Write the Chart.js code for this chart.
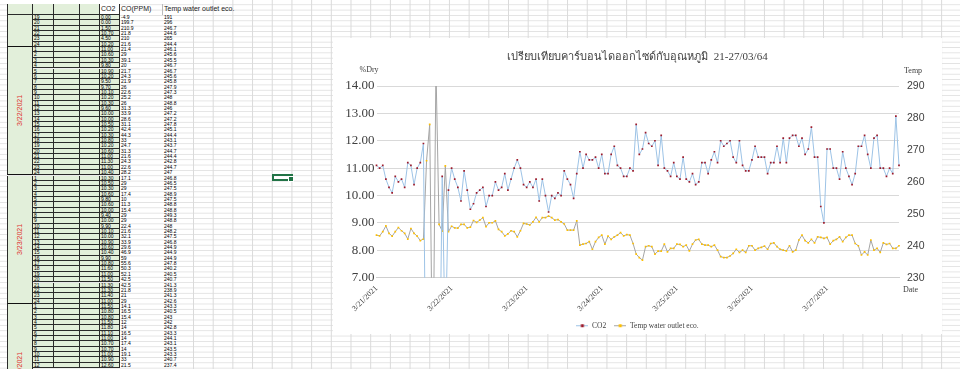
<!DOCTYPE html>
<html>
<head>
<meta charset="utf-8">
<script src="https://cdn.jsdelivr.net/npm/chart.js@4.4.1/dist/chart.umd.min.js"></script>
<style>
html, body { margin: 0; padding: 0; }
body {
  width: 960px; height: 369px; overflow: hidden; position: relative;
  background-color: #fff;
  background-image: linear-gradient(to bottom, #e2e2e2 1px, transparent 1px);
  background-size: 100% 5.35px;
  background-position: 0 4.3px;
  font-family: "Liberation Sans", Arial, sans-serif;
}
#vlines {
  position: absolute; left: 193px; top: 0; width: 767px; height: 369px;
  background-image: linear-gradient(to right, #dadada 1px, transparent 1px);
  background-size: 19.7px 100%;
}
.c { position: absolute; box-sizing: border-box; white-space: nowrap; overflow: hidden; color: #000; }
.g { background: #e2efda; border-right: 1px solid #2a2a2a; border-bottom: 1px solid #2a2a2a; }
.t { font-size: 5px; line-height: 5px; padding-left: 1px; }
.hd { font-size: 7px; line-height: 10px; padding-left: 1px; color: #222; }
.dt { display: flex; align-items: center; justify-content: center; }
.dt span { transform: rotate(-90deg); font-size: 7px; color: #e0302f; white-space: nowrap; }
#chartBox { position: absolute; left: 333px; top: 38px; width: 609px; height: 296px; background: #fff; }
#active { position: absolute; left: 272px; top: 174px; width: 21px; height: 7px; box-sizing: border-box; border: 2px solid #217346; }
#active i { position: absolute; right: -3px; bottom: -3px; width: 4px; height: 4px; background: #217346; border: 1px solid #fff; }
</style>
</head>
<body>
<div id="vlines"></div>
<div id="sheet"></div>
<div id="active"><i></i></div>
<div id="chartBox"><canvas id="co2Chart"></canvas></div>
<script>
// chart data: one point per hour, 21-27 March 2021
const days = ['3/21/2021', '3/22/2021', '3/23/2021', '3/24/2021', '3/25/2021', '3/26/2021', '3/27/2021'];
const hours = [1, 2, 3, 4, 5, 6, 7, 8, 9, 10, 11, 12, 13, 14, 15, 16, 17, 18, 19, 20, 21, 22, 23, 24];

const co2 = [
  11.1, 11.0, 11.1, 10.6, 10.3, 10.1, 10.7, 10.5, 10.6, 10.3, 11.2, 11.1, 10.4, 11.0, 11.2, 11.9,
  0, 0, 0, 0, 1.5, 10.7, 4.5, 10.2,
  11.0, 10.6, 10.3, 9.8, 10.9, 10.2, 9.5, 9.7, 10.1, 10.2, 10.3, 9.6, 10.0, 10.0, 10.5, 10.2,
  10.3, 10.8, 10.2, 10.6, 11.0, 11.3, 11.0, 10.4, 10.3, 10.5, 10.3, 10.6, 9.8, 10.6, 10.0, 9.4,
  10.0, 9.9, 10.1, 10.0, 10.9, 10.6, 10.4, 9.9, 10.8, 11.6, 11.0, 11.5, 11.3, 11.3, 11.4, 11.0,
  11.5, 10.8, 10.8, 11.5, 11.8, 11.1, 11.0, 10.7, 10.7, 11.0, 10.9, 12.6, 11.5, 11.7, 12.3, 11.9,
  11.8, 12.0, 11.1, 12.2, 11.0, 10.9, 10.7, 11.2, 10.7, 10.6, 11.4, 10.6, 10.5, 10.8, 10.4, 10.5,
  11.2, 11.2, 10.8, 11.3, 11.6, 11.2, 12.0, 11.8, 11.9, 12.0, 11.4, 11.2, 12.0, 11.1, 10.9, 10.9,
  11.3, 11.8, 11.4, 11.4, 11.4, 10.8, 11.2, 11.2, 11.8, 11.2, 12.1, 11.2, 12.1, 12.2, 12.2, 11.8,
  12.1, 11.5, 11.7, 12.5, 11.4, 11.4, 9.6, 9.0, 11.7, 11.7, 11.0, 11.0, 10.6, 11.6, 11.0, 10.7,
  10.4, 10.8, 11.8, 11.8, 12.2, 11.5, 11.0, 12.1, 12.2, 11.0, 11.0, 10.7, 11.0, 10.8, 12.9, 11.1
];

const temp = [
  243.3, 243.1, 244.4, 246.2, 243.9, 243.0, 244.4, 245.7, 244.7, 243.9, 242.1, 245.4, 243.9, 243.0, 241.6, 242.1,
  266.6, 278.0, 191.0, 296.0, 246.7, 244.6, 265.0, 244.4,
  246.1, 245.6, 245.5, 246.7, 246.7, 245.6, 245.8, 247.9, 247.3,
  248.0, 248.8, 246.0, 247.2, 247.2, 247.8, 245.1, 244.4, 243.1, 243.7, 244.7, 244.4, 242.8, 244.7, 247.0, 246.8,
  246.5, 247.5, 248.9, 247.5, 248.8, 248.8, 249.3, 248.8, 248.0, 248.2, 247.5, 246.8, 244.9, 244.9, 244.9, 247.8,
  240.2, 240.5,
  240.7, 241.3, 238.9, 241.3, 242.6, 243.3, 240.5, 243.0, 242.0, 242.8, 243.3, 244.1, 243.1, 243.5, 243.3, 240.7,
  237.4, 236.3, 235.5, 239.7, 240.0, 239.7, 237.4, 238.3, 238.3, 240.5, 238.1, 239.2, 239.2, 240.5, 240.4, 239.7,
  240.2, 238.4,
  240.5, 241.8, 242.0, 240.5, 240.2, 240.2, 239.7, 240.2, 238.6, 236.6, 236.3, 236.3, 236.8, 237.6, 238.9, 237.9,
  238.6, 237.9, 240.0, 240.0, 238.6, 239.2, 239.5, 239.9, 238.9, 240.7, 240.9, 239.7, 238.9, 238.6, 238.4, 240.0,
  238.1, 238.6,
  241.8, 243.3, 241.6, 240.9, 242.0, 240.9, 242.8, 242.6, 242.3, 242.6, 240.5, 241.6, 242.0, 242.8, 241.3, 242.6,
  243.3, 243.3, 240.7, 240.0, 237.1, 238.1, 237.1, 241.8, 238.6, 239.2, 237.9, 240.9, 240.4, 240.7, 239.2, 239.2,
  240.0
];

// CO(PPM) column as far as it shows in the sheet (3/21 19h .. 3/24 12h)
const coPpm = [
  -4.9, 199.7, 210.9, 21.8, 210.0, 21.6,
  21.4, 29, 39.1, 20.0, 21.7, 24.3, 21.9, 26, 22.6, 25.2, 26, 31.3, 33.9, 28.6, 31.1, 42.4, 44.3, 33, 24.7, 31.3, 21.6, 24.3, 22.6, 28.2,
  17.1, 29, 29, 17.4, 10, 11.3, 15.4, 29, 29, 22.4, 21.6, 32.1, 33.9, 29.6, 46.9, 59, 55.6, 50.3, 52.1, 42.5, 42.5, 21.8, 21.0, 29,
  14.1, 16.5, 15.4, 12, 14.0, 16.5, 14.0, 17.4, 14.0, 19.1, 33, 21.5
];

const titleText = 'เปรียบเทียบคาร์บอนไดออกไซด์กับอุณหภูมิ  21-27/03/64';
const leftTitle = '%Dry';
const rightTitle = 'Temp';
const xTitle = 'Date';
const leftMin = 7, leftMax = 14;
const rightMin = 230, rightMax = 290;

// ---------- the worksheet behind the chart ----------
const sheet = document.getElementById('sheet');
function cell(x, y, w, h, cls, text) {
  const d = document.createElement('div');
  d.className = 'c ' + cls;
  d.style.left = x + 'px'; d.style.top = y + 'px';
  d.style.width = w + 'px'; d.style.height = h + 'px';
  if (text !== undefined) d.textContent = text;
  sheet.appendChild(d);
  return d;
}
const rowTop = 15, rowH = 5.35;

// header row
cell(7, 4, 26, 11, 'g', '').style.borderLeft = '1px solid #2a2a2a';
cell(33, 4, 21, 11, 'g', '');
cell(54, 4, 26, 11, 'g', '');
cell(80, 4, 20, 11, 'g', '');
cell(100, 4, 20, 11, 'g hd', 'CO2').style.background = '#fff';
cell(120, 4, 43, 11, 'hd', 'CO(PPM)').style.borderRight = '1px solid #bbb';
cell(163, 4, 90, 11, 'hd', 'Temp water outlet eco.');

let r = 0;
[[0, 19, 24], [1, 1, 24], [2, 1, 24], [3, 1, 12]].forEach(([d, h0, h1]) => {
  const blockTop = rowTop + r * rowH;
  const fullRows = 24 - (h0 - 1);
  const blk = cell(7, blockTop, 26, fullRows * rowH, 'g dt');
  blk.style.borderLeft = '1px solid #2a2a2a';
  blk.style.borderBottom = '1px solid #111';
  if (h0 === 1) {
    const s = document.createElement('span');
    s.textContent = days[d];
    blk.appendChild(s);
  }
  for (let h = h0; h <= h1; h++) {
    const y = rowTop + r * rowH;
    const i = d * 24 + h - 1;
    cell(33, y, 21, rowH, 'g t', String(h));
    cell(54, y, 26, rowH, 'g t', '');
    cell(80, y, 20, rowH, 'g t', '');
    cell(100, y, 20, rowH, 'g t', co2[i].toFixed(2));
    cell(120, y, 43, rowH, 't', String(coPpm[r]));
    cell(163, y, 30, rowH, 't', String(temp[i]));
    r++;
  }
});

// ---------- the chart ----------
const labels = days.flatMap(d => hours.map(h => d + ' ' + h));

function legendMark(lineColor, dotColor) {
  const c = document.createElement('canvas');
  c.width = 12; c.height = 5;
  const g = c.getContext('2d');
  g.strokeStyle = lineColor; g.lineWidth = 1;
  g.beginPath(); g.moveTo(0, 2.5); g.lineTo(12, 2.5); g.stroke();
  g.fillStyle = dotColor; g.fillRect(4.5, 1, 3, 3);
  return c;
}
const co2Line = '#9dc3e6', co2Dot = '#9e1a2a';
const tempLine = '#a5a5a5', tempDot = '#ffc000';
const marks = [legendMark(co2Line, co2Dot), legendMark(tempLine, tempDot)];

const axisTitles = {
  id: 'axisTitles',
  afterDraw(chart) {
    const { ctx, chartArea } = chart;
    ctx.save();
    ctx.font = '8px "Liberation Serif"';
    ctx.fillStyle = '#404040';
    ctx.textBaseline = 'middle';
    ctx.textAlign = 'left';
    ctx.fillText(leftTitle, chartArea.left - 17, chartArea.top - 16);
    ctx.fillText(rightTitle, chartArea.right + 5, chartArea.top - 15);
    ctx.fillText(xTitle, chartArea.right + 4, chartArea.bottom + 12);
    ctx.restore();
  }
};

const plotBottom = 239.7;
const padBottom = -5.5;
const ctx = document.getElementById('co2Chart').getContext('2d');
const co2Chart = new Chart(ctx, {
  type: 'line',
  data: {
    labels: labels,
    datasets: [{
      label: 'CO2',
      data: co2,
      yAxisID: 'y',
      borderColor: co2Line,
      borderWidth: 1,
      pointStyle: 'rect',
      pointRadius: 1.2,
      pointBorderWidth: 0,
      pointBackgroundColor: co2Dot,
      tension: 0
    }, {
      label: 'Temp water outlet eco.',
      data: temp,
      yAxisID: 'y1',
      borderColor: tempLine,
      borderWidth: 1,
      pointStyle: 'rect',
      pointRadius: 1.2,
      pointBorderWidth: 0,
      pointBackgroundColor: tempDot,
      tension: 0
    }]
  },
  options: {
    responsive: true,
    maintainAspectRatio: false,
    animation: false,
    layout: { padding: { left: 0, right: 0, top: 0, bottom: padBottom } },
    plugins: {
      title: {
        display: true,
        text: titleText,
        color: '#404040',
        font: { family: '"Liberation Serif", "Noto Sans", serif', size: 11, weight: 'normal' },
        padding: { top: 12.4, bottom: 22.4 }
      },
      legend: {
        position: 'bottom',
        labels: {
          usePointStyle: true,
          pointStyleWidth: 12,
          padding: 8,
          color: '#404040',
          font: { family: '"Liberation Serif"', size: 7.5 },
          generateLabels(chart) {
            const items = Chart.defaults.plugins.legend.labels.generateLabels(chart);
            items.forEach((it, k) => { it.pointStyle = marks[k]; });
            return items;
          }
        }
      },
      tooltip: { enabled: false }
    },
    scales: {
      x: {
        type: 'category',
        offset: false,
        grid: { display: false, drawTicks: false },
        border: { display: true, color: '#cfcfcf', dash: [1, 1] },
        ticks: {
          autoSkip: false,
          maxRotation: 45,
          minRotation: 45,
          padding: 6,
          color: '#404040',
          font: { family: '"Liberation Serif"', size: 8 },
          callback(v, i) { return i % 24 === 0 ? days[i / 24] : ''; }
        },
        afterFit(s) {
          s.height = s.chart.height - padBottom - s.chart.legend.height - plotBottom;
        }
      },
      y: {
        position: 'left',
        min: leftMin,
        max: leftMax,
        grid: { color: '#d9d9d9', drawTicks: false },
        border: { display: false },
        ticks: {
          stepSize: 1,
          padding: 2,
          color: '#404040',
          font: { family: '"Liberation Serif"', size: 13 },
          callback: v => v.toFixed(2)
        },
        afterFit(s) { s.width = 43.5; }
      },
      y1: {
        position: 'right',
        min: rightMin,
        max: rightMax,
        grid: { display: false, drawTicks: false },
        border: { display: false },
        ticks: {
          stepSize: 10,
          padding: 8,
          color: '#404040',
          font: { family: '"Liberation Sans"', size: 10.5 }
        },
        afterFit(s) { s.width = 43; }
      }
    }
  },
  plugins: [axisTitles]
});
</script>
</body>
</html>
